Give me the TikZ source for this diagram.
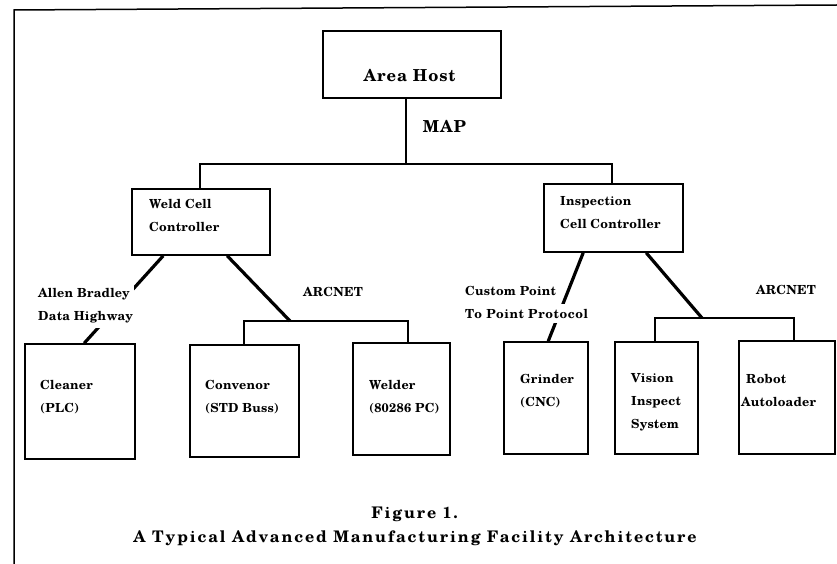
\documentclass[tikz,border=0pt]{standalone}
\usepackage{fontspec}
\setmainfont{texgyreschola-regular.otf}[BoldFont=texgyreschola-bold.otf]
\usetikzlibrary{calc}
\newcommand\lblfont{\fontsize{12.5}{23}\selectfont\bfseries\addfontfeature{LetterSpace=2}}
\newcommand\bigfont{\fontsize{16.5}{22}\selectfont\bfseries\addfontfeature{LetterSpace=6}}
\newcommand\capfont{\fontsize{16}{20}\selectfont\bfseries\addfontfeature{LetterSpace=11.5}}
\tikzset{
  box/.style={draw, line width=1.6pt, rectangle, inner sep=0pt},
  bus/.style={line width=1.4pt},
  link/.style={line width=3.2pt},
  lbl/.style={inner sep=1pt, align=left, anchor=base west, font=\lblfont},
  cut/.style={fill=white, inner ysep=5pt},
  frame/.style={line width=1.5pt},
}
\begin{document}
\begin{tikzpicture}[x=1pt,y=-1pt]
\useasboundingbox (0,0) rectangle (837,564);
% frame
\coordinate (fb) at (14,564);
\coordinate (ftl) at (14,10);
\coordinate (ftr) at (837,5);
\draw[frame] (fb) -- (ftl) -- (ftr);

% boxes
\node[box, minimum width=178pt, minimum height=67pt] (host) at (412,64.5) {};
\node[box, minimum width=138pt, minimum height=66pt] (weld) at (201,222) {};
\node[box, minimum width=139pt, minimum height=68pt] (insp) at (613.5,218) {};
\node[box, minimum width=110pt, minimum height=115pt] (clean) at (80,401.5) {};
\node[box, minimum width=109pt, minimum height=112pt] (conv) at (244.5,401) {};
\node[box, minimum width=97pt, minimum height=112pt] (welder) at (401.5,399) {};
\node[box, minimum width=84pt, minimum height=112pt] (grind) at (546,398) {};
\node[box, minimum width=83pt, minimum height=112pt] (vision) at (656.5,398) {};
\node[box, minimum width=96pt, minimum height=113pt] (robot) at (787,397.5) {};

% MAP bus
\coordinate (jM) at (406,164);
\coordinate (jL) at (200,164);
\coordinate (jR) at (612,164);
\draw[bus] (jM |- host.south) -- (jM);
\draw[bus] (jL |- weld.north) -- (jL) -- (jR) -- (jR |- insp.north);

% weld cell links
\coordinate (aL) at (290,321);
\coordinate (aLl) at (244,321);
\coordinate (aLr) at (408,321);
\draw[link] ($(weld.south west)+(32,0)$) -- ($(clean.north west)+(60,0)$);
\draw[link] ($(weld.south west)+(96,0)$) -- (aL);
\draw[bus] (aLl |- conv.north) -- (aLl) -- (aLr) -- (aLr |- welder.north);

% inspection cell links
\coordinate (aR) at (702,318);
\coordinate (aRl) at (655,318);
\coordinate (aRr) at (794,318);
\draw[link] ($(insp.south west)+(40,0)$) -- ($(grind.north west)+(45,0)$);
\draw[link] ($(insp.south west)+(103,0)$) -- (aR);
\draw[bus] (aRl |- vision.north) -- (aRl) -- (aRr) -- (aRr |- robot.north);

% texts (base anchor = baseline of last line)
\node[anchor=base, font=\bigfont, inner sep=0pt] (thost) at (409.5,82) {Area Host};
\node[anchor=base, font=\bigfont, inner sep=0pt] (tmap) at (444.5,133) {MAP};
\node[lbl] (tweld) at (148,231.5) {Weld Cell\\Controller};
\node[lbl] (tinsp) at (559,228) {Inspection\\Cell Controller};
\node[lbl, cut] (tab) at (37,320.5) {Allen Bradley\\Data Highway};
\node[lbl, anchor=base] (tarc1) at (333,296.5) {ARCNET};
\node[lbl] (tcp1) at (464,295.5) {Custom Point};
\node[lbl, cut] (tcp2) at (464,318) {\addfontfeature{LetterSpace=5}To Point Protocol};
\node[lbl, anchor=base] (tarc2) at (786,294.5) {ARCNET};
\node[lbl] (tclean) at (39,412) {Cleaner\\(PLC)};
\node[lbl] (tconv) at (204,412) {Convenor\\(STD Buss)};
\node[lbl] (twelder) at (368,412) {Welder\\(80286 PC)};
\node[lbl] (tgrind) at (519,406.5) {Grinder\\(CNC)};
\node[lbl] (tvision) at (630,428.5) {Vision\\Inspect\\System};
\node[lbl] (trobot) at (740,406.5) {\hspace*{5pt}Robot\\Autoloader};

\node[anchor=base, font=\capfont, inner sep=0pt] (cap1) at (414.5,518.5) {Figure 1.};
\node[anchor=base, font=\capfont, inner sep=0pt] (cap2) at (415,542.5) {A Typical Advanced Manufacturing Facility Architecture};
\end{tikzpicture}
\end{document}
